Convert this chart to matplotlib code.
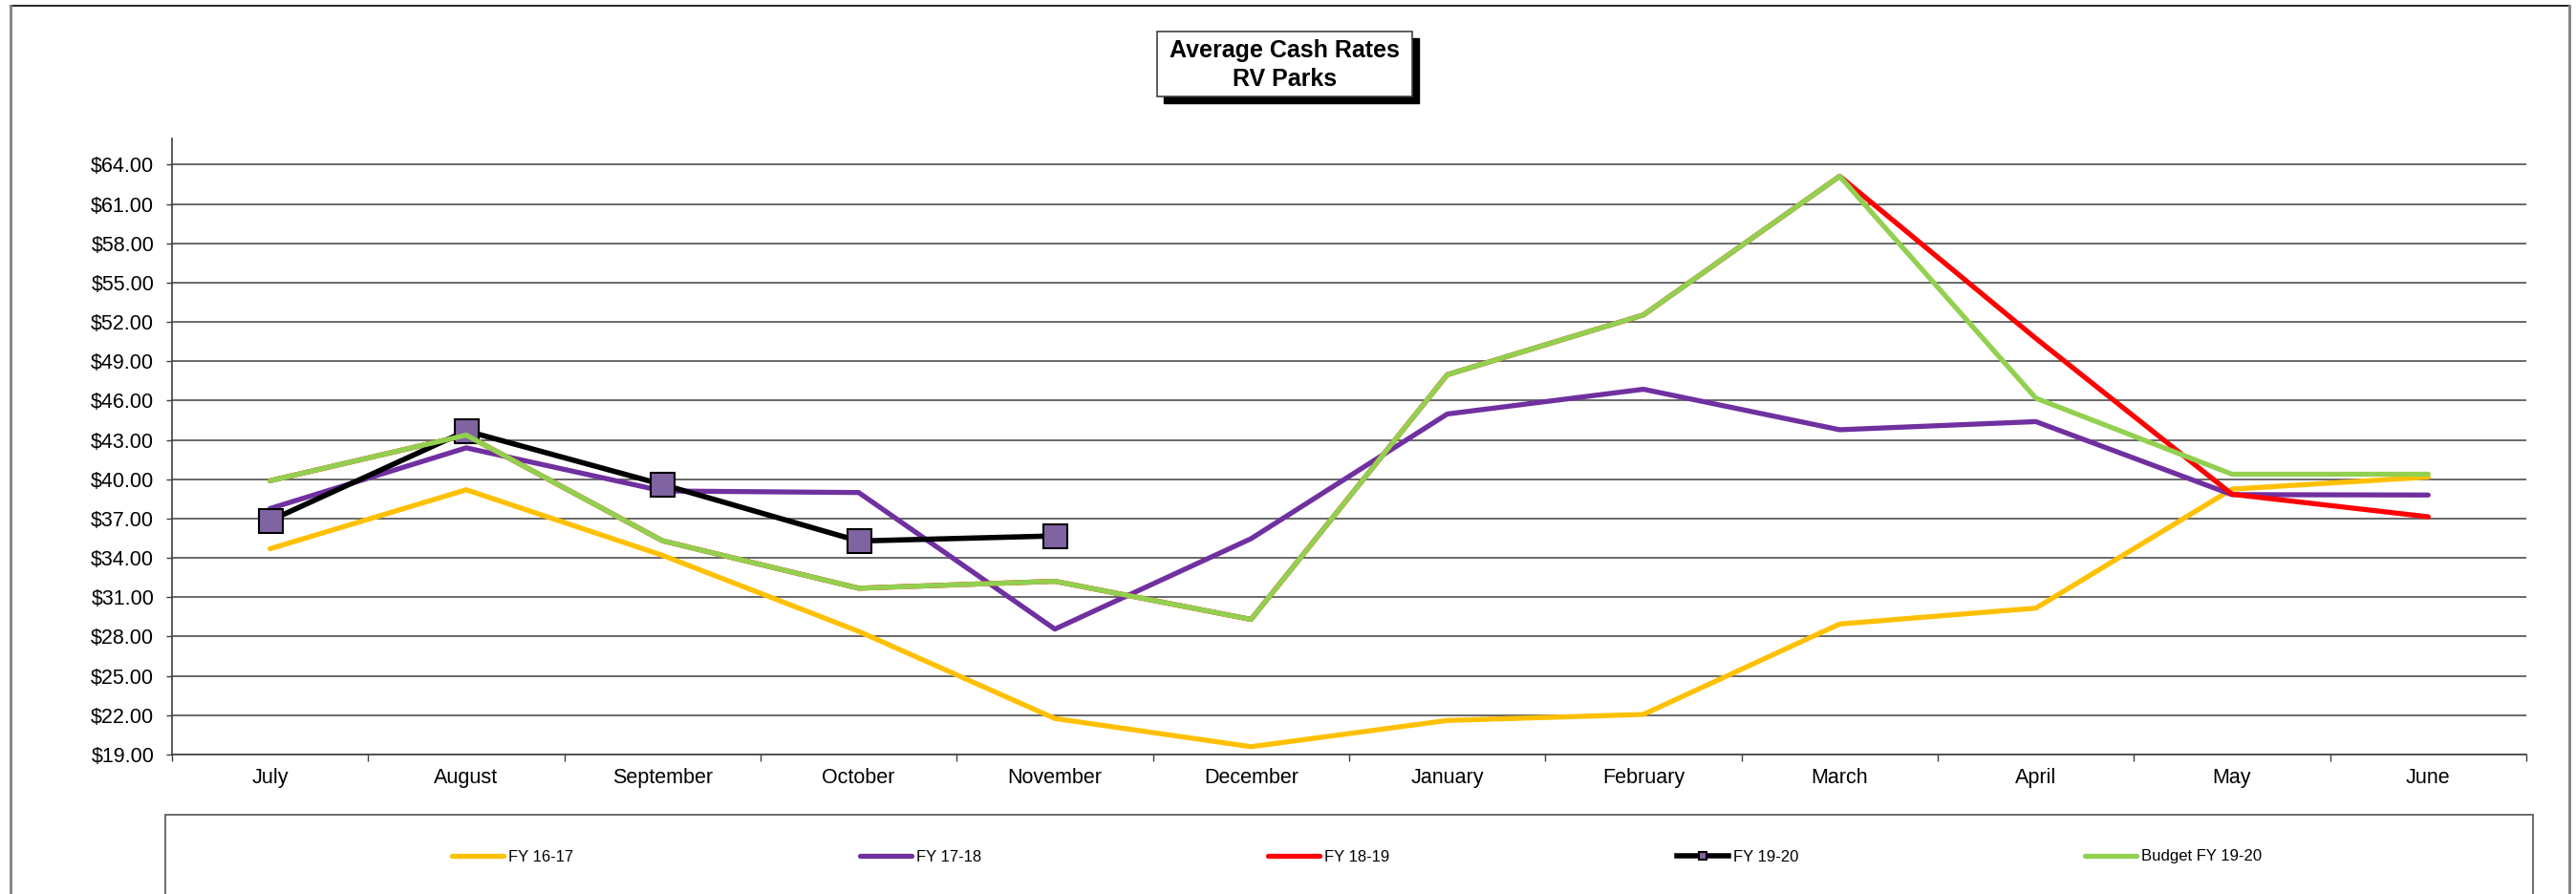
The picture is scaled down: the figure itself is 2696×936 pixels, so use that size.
import matplotlib
matplotlib.use("Agg")
import matplotlib.pyplot as plt
from matplotlib.patches import Rectangle
from matplotlib.lines import Line2D

plt.rcParams['font.family'] = ['Liberation Sans', 'DejaVu Sans']

months = ["July", "August", "September", "October", "November", "December",
          "January", "February", "March", "April", "May", "June"]
fy1617 = [34.7, 39.2, 34.2, 28.4, 21.75, 19.6, 21.6, 22.06, 28.96, 30.17, 39.25, 40.17]
fy1718 = [37.77, 42.4, 39.11, 38.99, 28.57, 35.47, 44.98, 46.87, 43.78, 44.4, 38.83, 38.8]
fy1819 = [39.89, 43.37, 35.31, 31.69, 32.22, 29.31, 47.98, 52.54, 63.12, 50.75, 38.86, 37.14]
fy1920 = [36.85, 43.69, 39.6, 35.29, 35.68]
budget1920 = [39.89, 43.37, 35.31, 31.69, 32.22, 29.31, 47.98, 52.54, 63.12, 46.19, 40.39, 40.39]
yticks = [19, 22, 25, 28, 31, 34, 37, 40, 43, 46, 49, 52, 55, 58, 61, 64]
series_names = ["FY 16-17", "FY 17-18", "FY 18-19", "FY 19-20", "Budget FY 19-20"]

W, H = 2696, 936
fig = plt.figure(figsize=(W / 100, H / 100), dpi=100)


def fx(px):
    return px / W


def fy(py):
    return (H - py) / H


ax = fig.add_axes([fx(180), fy(790), fx(2644) - fx(180), fy(145) - fy(790)])
x = list(range(len(months)))

LW = 3.8
ax.plot(x, fy1617, color="#FFC000", lw=LW, solid_capstyle="round", zorder=3, label=series_names[0])
ax.plot(x, fy1718, color="#7030A0", lw=LW, solid_capstyle="round", zorder=4, label=series_names[1])
ax.plot(x, fy1819, color="#FF0000", lw=LW, solid_capstyle="round", zorder=5, label=series_names[2])
ax.plot(range(len(fy1920)), fy1920, color="black", lw=4.0, marker="s", markersize=18,
        markerfacecolor="#8064A2", markeredgecolor="black", markeredgewidth=1.5,
        zorder=6, label=series_names[3])
ax.plot(x, budget1920, color="#92D050", lw=LW, solid_capstyle="round", zorder=7, label=series_names[4])

ax.set_xlim(-0.5, len(months) - 0.5)
ax.set_ylim(19, 66)
ax.set_yticks(yticks)
ax.set_yticklabels(["${:.2f}".format(v) for v in yticks])
ax.yaxis.grid(True, color="#404040", lw=1.1)
ax.set_axisbelow(True)

ax.set_xticks([i + 0.5 for i in range(-1, len(months))])
ax.set_xticklabels([])
ax.set_xticks(x, minor=True)
ax.set_xticklabels(months, minor=True)
ax.tick_params(axis="x", which="major", direction="out", length=5, width=1, color="#404040")
ax.tick_params(axis="x", which="minor", length=0, pad=10, labelsize=15.5)
ax.tick_params(axis="y", direction="out", length=4.5, width=1, color="#404040", pad=9, labelsize=15.5)

for s in ["top", "right"]:
    ax.spines[s].set_visible(False)
for s in ["left", "bottom"]:
    ax.spines[s].set_color("#404040")
    ax.spines[s].set_linewidth(1.2)

# outer chart frame
fig.add_artist(Line2D([fx(11), fx(2689)], [fy(6), fy(6)], color="black", lw=1.2, transform=fig.transFigure))
fig.add_artist(Line2D([fx(11), fx(11)], [fy(6), fy(940)], color="#808080", lw=2, transform=fig.transFigure))
fig.add_artist(Line2D([fx(2689), fx(2689)], [fy(6), fy(940)], color="#808080", lw=2, transform=fig.transFigure))

# legend box
fig.add_artist(Rectangle((fx(173), fy(950)), fx(2651) - fx(173), fy(853) - fy(950),
                         fill=False, edgecolor="#606060", lw=1.3, transform=fig.transFigure))

# title box with shadow
bx0, bx1, by0, by1 = 1211, 1478, 33, 101
fig.add_artist(Rectangle((fx(bx0 + 7), fy(by1 + 7)), fx(bx1) - fx(bx0), fy(by0) - fy(by1),
                         facecolor="black", edgecolor="black", transform=fig.transFigure))
fig.add_artist(Rectangle((fx(bx0), fy(by1)), fx(bx1) - fx(bx0), fy(by0) - fy(by1),
                         facecolor="white", edgecolor="#404040", lw=1.2, transform=fig.transFigure))
fig.text(fx((bx0 + bx1) / 2), fy((by0 + by1) / 2 + 1), "Average Cash Rates\nRV Parks",
         ha="center", va="center", fontsize=18, fontweight="bold", linespacing=1.3)

handles, labels = ax.get_legend_handles_labels()
fig.legend(handles, labels, loc="center left", bbox_to_anchor=(fx(473), fy(897)),
           ncol=5, frameon=False, fontsize=12, handlelength=3.24, handletextpad=0.3,
           columnspacing=18.0, borderpad=0, borderaxespad=0, markerscale=0.3)

fig.savefig("out.png", dpi=100)
